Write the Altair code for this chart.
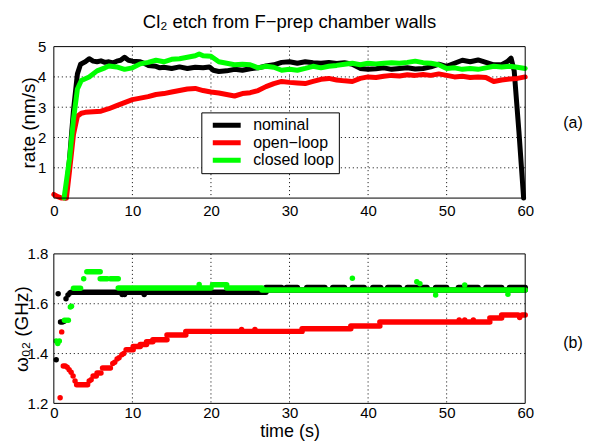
import altair as alt
import pandas as pd

SERIES = ["nominal", "open−loop", "closed loop"]
COLORS = ["#000000", "#ff0000", "#00ff00"]

# ---------- top panel: etch rate (nm/s) ----------
nom_t = [1.5, 2.0, 2.5, 3.0, 3.4, 4.0, 4.5, 5, 5.5, 6, 6.5, 7, 7.5, 8, 8.5, 9, 9.5, 10, 11, 11.5, 12, 13, 13.5, 14, 15, 16, 17, 18, 19, 19.8,
         20.3, 21, 22, 23, 24, 25, 26, 27, 28, 29, 30, 31, 32, 33, 34, 35, 36, 37, 38, 39, 40, 41, 42, 43, 44, 45, 46, 47, 48, 49,
         50, 51, 52, 53, 54, 55, 56, 57, 57.7, 58.2, 58.6, 59.2, 59.8]
nom_v = [0, 1.3, 2.9, 4.1, 4.42, 4.5, 4.6, 4.52, 4.5, 4.53, 4.48, 4.5, 4.46, 4.52, 4.55, 4.65, 4.55, 4.52, 4.5, 4.45, 4.38, 4.35, 4.3, 4.32, 4.28, 4.33, 4.28, 4.32, 4.3, 4.33,
         4.22, 4.18, 4.2, 4.25, 4.22, 4.27, 4.3, 4.36, 4.4, 4.48, 4.5, 4.45, 4.5, 4.47, 4.45, 4.48, 4.44, 4.47, 4.42, 4.28, 4.25, 4.27, 4.3, 4.25, 4.28, 4.3, 4.26, 4.28, 4.33, 4.42,
         4.35, 4.45, 4.55, 4.5, 4.56, 4.48, 4.4, 4.4, 4.5, 4.62, 4.2, 2.2, 0]

opn_t = [0, 0.5, 1.0, 1.6, 2.0, 2.5, 3.0, 3.5, 4, 5, 6, 7, 8, 9, 10, 11, 12, 13, 14, 15, 16, 17, 18, 19, 20, 21, 22, 23, 24, 25, 26, 27, 28, 29,
         30, 31, 32, 33, 34, 35, 36, 37, 38, 39, 40, 41, 42, 43, 44, 45, 46, 47, 48, 49, 50, 51, 52, 53, 54, 55, 56, 57, 58, 59, 60]
opn_v = [0.12, 0.05, 0, 0, 0.9, 2.1, 2.7, 2.8, 2.83, 2.85, 2.87, 2.95, 3.05, 3.15, 3.25, 3.3, 3.35, 3.42, 3.45, 3.5, 3.55, 3.6, 3.62, 3.55, 3.5, 3.47, 3.42, 3.37, 3.45, 3.48, 3.55, 3.68, 3.78, 3.85,
         3.82, 3.8, 3.78, 3.85, 3.92, 3.95, 3.9, 3.87, 3.85, 3.95, 4.0, 3.98, 4.02, 4.05, 4.03, 4.07, 4.05, 4.08, 4.05, 4.1, 4.05, 4.0, 4.02, 3.98, 4.0, 3.98, 3.85, 3.9, 3.93, 3.95, 4.0]

cls_t = [1.3, 2.0, 2.5, 3.0, 3.5, 4.5, 5.5, 6.5, 7, 8, 9, 10, 11, 12, 13, 14, 15, 16, 17, 18, 18.5, 19, 20, 21, 22, 23, 24, 25, 26, 27, 28, 29,
         30, 31, 32, 33, 34, 35, 36, 37, 38, 39, 40, 41, 42, 43, 44, 45, 46, 47, 48, 49, 50, 51, 52, 53, 54, 55, 56, 57, 58, 59, 60]
cls_v = [0, 1.3, 2.6, 3.6, 3.88, 4.0, 4.2, 4.3, 4.36, 4.33, 4.25, 4.3, 4.43, 4.48, 4.55, 4.5, 4.58, 4.6, 4.65, 4.7, 4.76, 4.7, 4.68, 4.5, 4.45, 4.4, 4.42, 4.4, 4.3, 4.35, 4.32, 4.22,
         4.25, 4.22, 4.28, 4.35, 4.3, 4.35, 4.38, 4.42, 4.45, 4.4, 4.45, 4.43, 4.45, 4.47, 4.45, 4.48, 4.52, 4.47, 4.45, 4.4, 4.28, 4.3, 4.25, 4.28, 4.25, 4.3, 4.35, 4.33, 4.35, 4.32, 4.28]

# ---------- bottom panel: omega (GHz), isolated samples + constant runs ----------
nom_pt_t = [0.3, 0.55, 0.85, 1.1, 1.3, 1.55, 1.8, 2.05, 8.7, 9.0, 11.5]
nom_pt_v = [1.375, 1.64, 1.527, 1.527, 1.53, 1.62, 1.635, 1.643, 1.637, 1.637, 1.637]
nom_run_t0 = [2.2, 27.0, 27.0, 29.6, 32.2, 35.5, 38.0, 40.6, 42.5, 45.0, 48.6, 51.5, 55.0, 58.0]
nom_run_t1 = [27.0, 60.0, 29.0, 31.0, 34.5, 37.0, 39.5, 41.6, 44.0, 47.5, 50.0, 54.0, 57.0, 60.0]
nom_run_v = [1.646, 1.655, 1.665, 1.665, 1.665, 1.665, 1.665, 1.665, 1.665, 1.665, 1.665, 1.665, 1.665, 1.665]

opn_pt_t = [0.8, 1.0, 1.2, 1.45, 1.7, 1.95, 2.2, 2.45, 2.7, 4.5, 4.75, 7.5, 7.75, 8.05, 8.3, 8.65, 8.9, 23.9, 25.6, 51.6, 52.3, 53.4, 59.3]
opn_pt_v = [1.223, 1.487, 1.35, 1.35, 1.345, 1.335, 1.325, 1.31, 1.29, 1.29, 1.295, 1.36, 1.365, 1.378, 1.383, 1.395, 1.40, 1.497, 1.497, 1.535, 1.535, 1.535, 1.545]
opn_run_t0 = [2.9, 5.0, 5.5, 6.2, 9.2, 10.1, 11.0, 11.8, 12.6, 14.4, 16.8, 31.6, 37.8, 41.5, 55.5, 57.0, 59.6]
opn_run_t1 = [4.3, 5.4, 6.0, 7.2, 10.1, 11.0, 11.8, 12.6, 14.4, 16.8, 31.6, 37.8, 41.5, 55.5, 57.0, 59.1, 60.0]
opn_run_v = [1.275, 1.31, 1.322, 1.342, 1.415, 1.428, 1.436, 1.447, 1.455, 1.474, 1.489, 1.50, 1.511, 1.527, 1.543, 1.555, 1.555]

cls_pt_t = [0.3, 0.5, 0.7, 1.35, 1.6, 1.85, 2.1, 2.25, 3.8, 18.5, 38.0, 46.2, 46.6, 48.6, 52.3, 57.8]
cls_pt_v = [1.45, 1.44, 1.45, 1.534, 1.534, 1.534, 1.587, 1.59, 1.70, 1.677, 1.702, 1.688, 1.68, 1.635, 1.675, 1.638]
cls_run_t0 = [2.5, 4.2, 5.9, 7.2, 8.2, 20.2, 22.0, 26.5]
cls_run_t1 = [3.4, 5.9, 6.8, 8.2, 20.0, 22.0, 26.5, 60.0]
cls_run_v = [1.662, 1.728, 1.70, 1.70, 1.663, 1.676, 1.663, 1.655]

TITLE = "Cl₂ etch from F−prep chamber walls"
X_TICKS = [0, 10, 20, 30, 40, 50, 60]
X_DOMAIN = [0, 60]
Y1_TICKS = [1, 2, 3, 4, 5]
Y1_DOMAIN = [0, 5]
Y2_TICKS = [1.2, 1.4, 1.6, 1.8]
Y2_DOMAIN = [1.2, 1.8]

W, H1, H2 = 473, 152, 150
FONT = "Liberation Sans"
LBL = 15
TTL = 19

cscale = alt.Scale(domain=SERIES, range=COLORS)
xscale = alt.Scale(domain=X_DOMAIN, nice=False, zero=False)
y1scale = alt.Scale(domain=Y1_DOMAIN, nice=False, zero=False)
y2scale = alt.Scale(domain=Y2_DOMAIN, nice=False, zero=False)
ax_kw = dict(grid=False, ticks=False, domain=False, labelFlush=False,
             labelFontSize=LBL, labelColor="black", labelFont=FONT)
ttl_kw = dict(titleFont=FONT, titleFontWeight="normal", titleColor="black")

x1axis = alt.Axis(values=X_TICKS, title=None, labelPadding=5, **ax_kw)
y1axis = alt.Axis(values=Y1_TICKS, title="rate (nm/s)", titleFontSize=TTL, titlePadding=-1, labelPadding=8, **ttl_kw, **ax_kw)
x2axis = alt.Axis(values=X_TICKS, title="time (s)", titleFontSize=18, titlePadding=2, labelPadding=2, **ttl_kw, **ax_kw)
y2axis = alt.Axis(values=Y2_TICKS, format=".1f", title="ω₀₂ (GHz)", titleFontSize=TTL, titlePadding=-4, labelPadding=6, **ttl_kw, **ax_kw)


def grid_and_frame(xaxis, yaxis, yscale, yticks, ydomain):
    """Dotted grid at tick positions and a solid box at the domain limits."""
    gx = pd.DataFrame({"t": X_TICKS[1:-1]})
    gy = pd.DataFrame({"v": [v for v in yticks if ydomain[0] < v < ydomain[1]]})
    fx = pd.DataFrame({"t": X_DOMAIN})
    fy = pd.DataFrame({"v": ydomain})
    gkw = dict(strokeDash=[1, 3], color="#000000", strokeWidth=1)
    grid = [
        alt.Chart(gx).mark_rule(**gkw).encode(x=alt.X("t:Q", scale=xscale, axis=xaxis)),
        alt.Chart(gy).mark_rule(**gkw).encode(y=alt.Y("v:Q", scale=yscale, axis=yaxis)),
    ]
    frame = [
        alt.Chart(fx).mark_rule(color="black", strokeWidth=1).encode(x=alt.X("t:Q", scale=xscale, axis=xaxis)),
        alt.Chart(fy).mark_rule(color="black", strokeWidth=1).encode(y=alt.Y("v:Q", scale=yscale, axis=yaxis)),
    ]
    return grid, frame


# ---------- top chart ----------
top_lines = [(nom_t, nom_v, SERIES[0]), (opn_t, opn_v, SERIES[1]), (cls_t, cls_v, SERIES[2])]
top_layers = []
for i, (ts, vs, name) in enumerate(top_lines):
    df = pd.DataFrame({"t": ts, "v": vs, "s": name})
    if i == 0:
        color = alt.Color("s:N", scale=cscale, legend=alt.Legend(
            title=None, orient="none", legendX=148, legendY=66, direction="vertical",
            fillColor="white", strokeColor="black", padding=5, symbolOffset=4,
            symbolType="stroke", symbolStrokeWidth=5, symbolSize=784, clipHeight=16,
            labelFontSize=16, labelFont=FONT, labelColor="black", labelOffset=10,
            rowPadding=1.5, cornerRadius=0))
    else:
        color = alt.Color("s:N", scale=cscale)
    top_layers.append(alt.Chart(df).mark_line(strokeWidth=5, strokeJoin="round", strokeCap="round").encode(
        x=alt.X("t:Q", scale=xscale, axis=x1axis),
        y=alt.Y("v:Q", scale=y1scale, axis=y1axis),
        color=color))

tag_a = alt.Chart(pd.DataFrame({"txt": ["(a)"]})).mark_text(fontSize=16, font=FONT, color="black", align="center", baseline="middle").encode(
    text="txt:N", x=alt.value(521), y=alt.value(77))

g1, f1 = grid_and_frame(x1axis, y1axis, y1scale, Y1_TICKS, Y1_DOMAIN)
top = alt.layer(*g1, *top_layers, *f1, tag_a).properties(
    width=W, height=H1,
    title=alt.TitleParams(TITLE, frame="group", anchor="middle", fontSize=18.5, font=FONT, fontWeight="normal",
                          color="black", offset=8))

# ---------- bottom chart ----------
bot_sets = [
    (nom_pt_t, nom_pt_v, nom_run_t0, nom_run_t1, nom_run_v, SERIES[0]),
    (opn_pt_t, opn_pt_v, opn_run_t0, opn_run_t1, opn_run_v, SERIES[1]),
    (cls_pt_t, cls_pt_v, cls_run_t0, cls_run_t1, cls_run_v, SERIES[2]),
]
bot_layers = []
for pts_t, pts_v, r0, r1, rv, name in bot_sets:
    dpt = pd.DataFrame({"t": pts_t, "v": pts_v, "s": name})
    drun = pd.DataFrame({"t": r0, "t1": r1, "v": rv, "s": name})
    bot_layers.append(alt.Chart(drun).mark_rule(strokeWidth=5.5, strokeCap="round").encode(
        x=alt.X("t:Q", scale=xscale, axis=x2axis), x2="t1:Q",
        y=alt.Y("v:Q", scale=y2scale, axis=y2axis),
        color=alt.Color("s:N", scale=cscale, legend=None)))
    bot_layers.append(alt.Chart(dpt).mark_circle(size=30, opacity=1).encode(
        x=alt.X("t:Q", scale=xscale, axis=x2axis),
        y=alt.Y("v:Q", scale=y2scale, axis=y2axis),
        color=alt.Color("s:N", scale=cscale, legend=None)))

tag_b = alt.Chart(pd.DataFrame({"txt": ["(b)"]})).mark_text(fontSize=16, font=FONT, color="black", align="center", baseline="middle").encode(
    text="txt:N", x=alt.value(521), y=alt.value(89))

g2, f2 = grid_and_frame(x2axis, y2axis, y2scale, Y2_TICKS, Y2_DOMAIN)
bottom = alt.layer(*g2, *bot_layers, *f2, tag_b).properties(width=W, height=H2)

chart = (alt.vconcat(top, bottom, spacing=56, bounds="flush")
         .resolve_scale(color="independent")
         .properties(padding={"left": 4, "top": 4, "right": 0, "bottom": 0})
         .configure(font=FONT, background="white")
         .configure_view(stroke=None))

chart.save("out.html", embed_options={"renderer": "svg", "actions": False})
